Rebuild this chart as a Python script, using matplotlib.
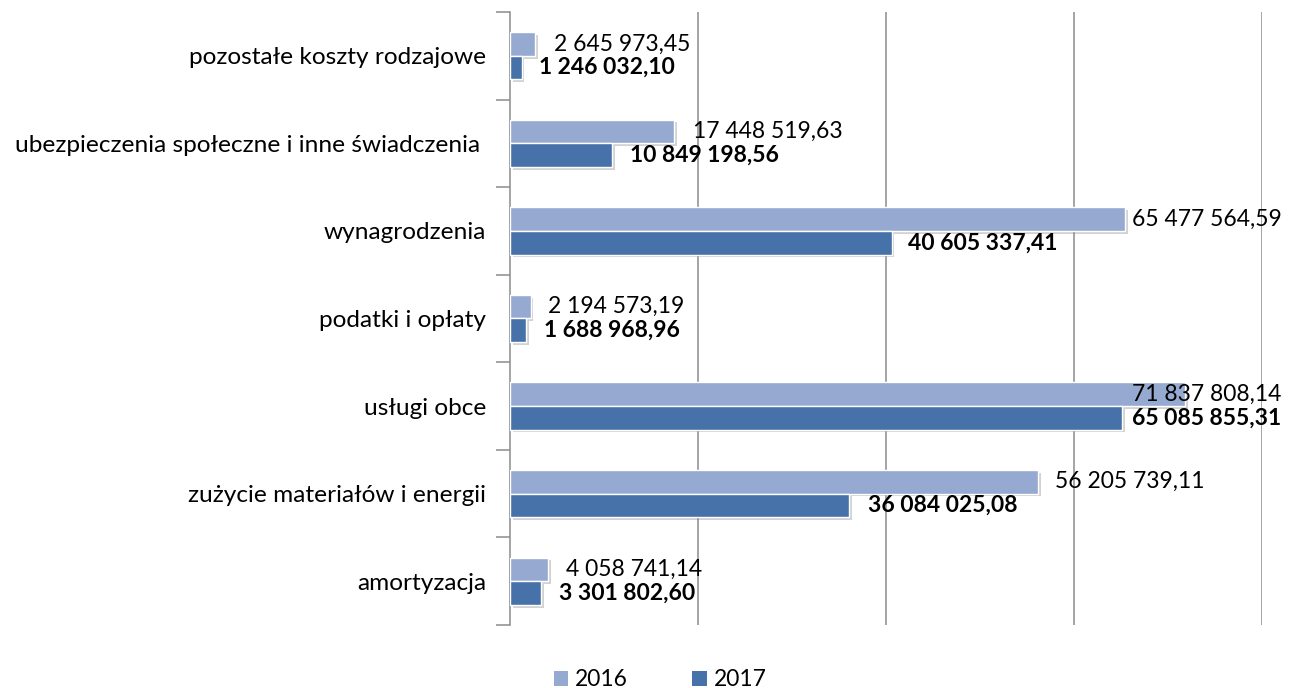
import matplotlib
matplotlib.use("Agg")
import matplotlib.pyplot as plt
import matplotlib.patheffects as pe
from matplotlib.patches import Patch
import numpy as np

plt.rcParams['font.family'] = ['Lato', 'DejaVu Sans']

# categories bottom -> top
categories = ["amortyzacja", "zużycie materiałów i energii", "usługi obce",
              "podatki i opłaty", "wynagrodzenia",
              "ubezpieczenia społeczne i inne świadczenia ", "pozostałe koszty rodzajowe"]
values_2016 = [4058741.14, 56205739.11, 71837808.14, 2194573.19, 65477564.59, 17448519.63, 2645973.45]
values_2017 = [3301802.60, 36084025.08, 65085855.31, 1688968.96, 40605337.41, 10849198.56, 1246032.10]
labels_2016 = ["4 058 741,14", "56 205 739,11", "71 837 808,14", "2 194 573,19",
               "65 477 564,59", "17 448 519,63", "2 645 973,45"]
labels_2017 = ["3 301 802,60", "36 084 025,08", "65 085 855,31", "1 688 968,96",
               "40 605 337,41", "10 849 198,56", "1 246 032,10"]
series_names = ["2016", "2017"]

# label x-offsets in pixels (style)
off_2016 = [18, 17, -53, 17, 7, 19, 19]
off_2017 = [18, 19, 10, 18, 16, 18, 17]

c2016 = "#95A9D1"
c2017 = "#4672A9"
grid_c = "#8C8C8C"

fig = plt.figure(figsize=(12.96, 6.88), dpi=100)
ax = fig.add_axes([510/1296, 1 - 625/688, (1262-510)/1296, (625-12)/688])

y = np.arange(len(categories))
h = 0.27
shadow = [pe.SimplePatchShadow(offset=(2, -2), shadow_rgbFace="#808080", alpha=0.35), pe.Normal()]
b1 = ax.barh(y + h/2, values_2016, height=h, color=c2016, edgecolor="white", linewidth=1, zorder=3)
b2 = ax.barh(y - h/2, values_2017, height=h, color=c2017, edgecolor="white", linewidth=1, zorder=3)
for b in list(b1) + list(b2):
    b.set_path_effects(shadow)

fs_num = 16.5
fs_cat = 17.6
for i in range(len(categories)):
    ax.annotate(labels_2016[i], xy=(values_2016[i], y[i] + h/2), xytext=(off_2016[i]*0.72, 0),
                textcoords="offset points", va="center", ha="left", fontsize=fs_num, color="black",
                zorder=5, annotation_clip=False)
    ax.annotate(labels_2017[i], xy=(values_2017[i], y[i] - h/2), xytext=(off_2017[i]*0.72, 0),
                textcoords="offset points", va="center", ha="left", fontsize=fs_num, color="black",
                fontweight="bold", zorder=5, annotation_clip=False)

ax.set_xlim(0, 80e6)
ax.set_ylim(-0.5, len(categories) - 0.5)
ax.set_xticks([20e6, 40e6, 60e6, 80e6])
ax.xaxis.grid(True, color=grid_c, linewidth=1.1, zorder=0)
ax.tick_params(axis="x", length=0, labelbottom=False)

ax.set_yticks(np.arange(-0.5, len(categories), 1.0))
ax.set_yticklabels([])
ax.set_yticks(y, minor=True)
ax.set_yticklabels(categories, minor=True, fontsize=fs_cat)
ax.tick_params(axis="y", which="major", length=10, width=1.1, color=grid_c, direction="out")
ax.tick_params(axis="y", which="minor", length=0, pad=24*0.72)

for s in ["top", "right", "bottom"]:
    ax.spines[s].set_visible(False)
ax.spines["left"].set_color(grid_c)
ax.spines["left"].set_linewidth(1.1)

handles = [Patch(facecolor=c2016, edgecolor="none"), Patch(facecolor=c2017, edgecolor="none")]
fig.legend(handles, series_names, loc="center", bbox_to_anchor=(660/1296, 1 - 680/688),
           ncol=2, frameon=False, fontsize=16.4, handlelength=0.62, handleheight=0.62,
           handletextpad=0.3, columnspacing=2.85, borderpad=0.0)

fig.savefig("out.png", dpi=100)
